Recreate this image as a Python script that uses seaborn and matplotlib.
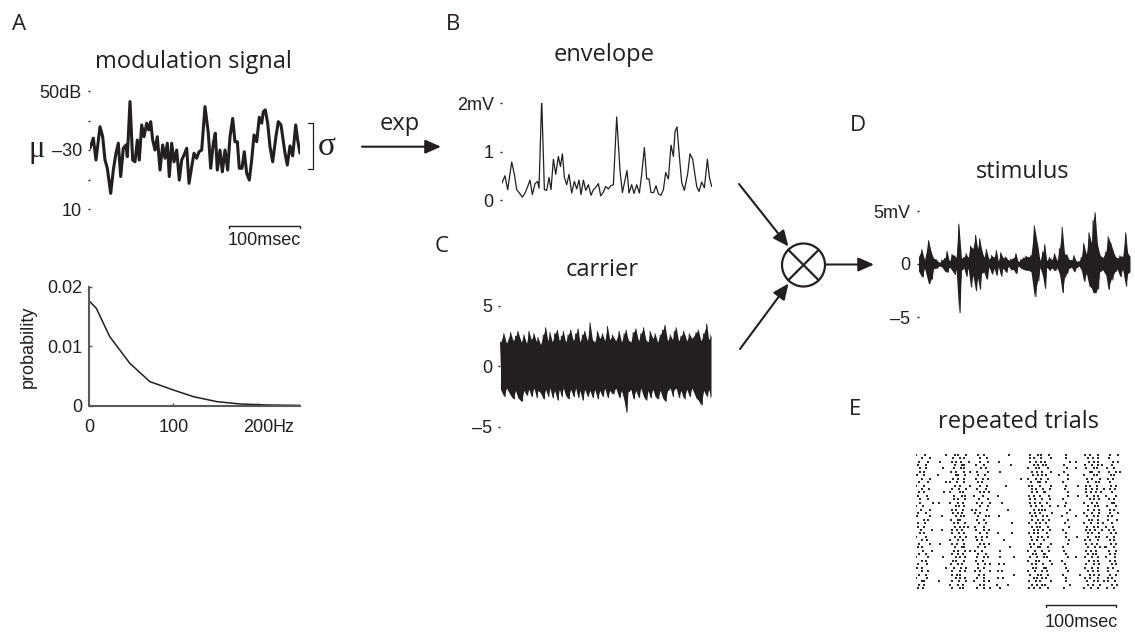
import numpy as np
import pandas as pd
import matplotlib
matplotlib.use("Agg")
import matplotlib.pyplot as plt
from matplotlib.patches import Circle
import seaborn as sns

# ---------------------------------------------------------------- data
# modulation signal (dB) sampled at irregular time points (ms)
mod_time_ms = [0, 4.7, 8.5, 14.2, 18.0, 21.3, 24.6, 29.4, 33.1, 36.9, 40.2, 43.6, 47.3, 51.1,
               53.0, 56.8, 60.6, 63.9, 67.2, 70.0, 73.4, 76.7, 80.5, 83.4, 86.2, 89.0, 92.3,
               95.6, 99.4, 103.2, 106.5, 109.8, 112.6, 116.0, 119.3, 123.1, 126.8, 130.2,
               133.5, 137.3, 140.6, 144.4, 147.7, 151.5, 154.8, 158.6, 163.3, 168.0, 171.4,
               175.1, 177.9, 180.8, 184.6, 187.9, 191.7, 195.5, 198.8, 202.6, 205.9, 209.2,
               212.0, 215.8, 219.1, 222.5, 226.2, 229.6, 232.9, 236.7, 240.4, 243.8, 246.1,
               248.9, 252.3, 255.6, 259.4, 264.1, 267.4, 271.2, 276.9, 280.2, 284.0, 287.8,
               292.1, 294.9, 298.2]
mod_db = [30.6, 34.0, 26.6, 37.9, 34.5, 26.6, 23.8, 15.3, 23.2, 28.9, 32.3, 21.0, 30.6, 31.7,
          27.7, 46.4, 26.6, 26.0, 33.4, 26.6, 38.5, 34.5, 39.1, 36.8, 39.6, 33.4, 30.0,
          34.5, 23.2, 31.7, 27.2, 32.3, 21.0, 32.3, 26.0, 30.0, 19.8, 26.6,
          28.3, 30.6, 18.7, 24.3, 28.9, 27.2, 29.4, 30.0, 44.7, 35.7, 23.8,
          32.3, 35.7, 23.2, 30.0, 22.6, 30.0, 23.2, 34.5, 40.7, 32.8, 32.8,
          23.8, 23.8, 29.4, 22.1, 19.8, 26.6, 35.1, 32.8, 41.1, 39.1, 43.0,
          43.6, 39.1, 31.1, 26.0, 34.7, 39.6, 38.5, 28.9, 24.9, 31.4, 28.0,
          38.5, 33.4, 28.9]

# carrier noise: upper and lower excursion at the same time points
carrier_hi = [2.0, 2.7, 1.9, 2.8, 2.1, 2.5, 2.9, 2.0, 2.6, 1.9,
              2.9, 2.2, 2.7, 2.0, 2.4, 1.8, 2.6, 3.2, 2.1, 2.8,
              2.0, 2.7, 3.0, 2.1, 2.5, 2.9, 2.0, 2.6, 3.0, 2.1,
              2.7, 3.1, 2.0, 2.6, 2.9, 2.1, 3.6, 2.2, 2.0, 2.9,
              2.3, 2.7, 2.1, 3.3, 2.2, 2.6, 2.1, 2.9, 2.0, 2.7,
              3.0, 2.2, 2.0, 2.8, 3.1, 2.1, 2.7, 3.2, 2.2, 2.0,
              2.9, 2.3, 2.7, 2.0, 2.6, 3.0, 3.4, 2.1, 2.6, 2.2,
              2.9, 3.2, 2.1, 2.5, 2.9, 2.1, 2.7, 2.3, 2.8, 3.0,
              2.1, 2.7, 3.5, 2.2, 2.6]
carrier_lo = [-1.9, -2.5, -1.8, -2.4, -2.7, -2.0, -2.6, -2.9, -2.0, -2.4,
              -1.9, -2.5, -1.8, -2.6, -2.0, -2.2, -2.7, -1.9, -2.5, -1.8,
              -2.6, -2.0, -2.8, -1.9, -2.5, -1.8, -2.4, -2.7, -1.9, -2.5,
              -1.8, -2.6, -2.0, -2.8, -1.9, -2.5, -2.0, -2.6, -1.9, -2.7,
              -2.0, -2.5, -1.8, -2.6, -2.0, -2.3, -1.8, -2.6, -2.0, -2.8,
              -3.8, -2.1, -1.9, -2.7, -2.0, -2.6, -1.8, -2.5, -2.8, -2.0,
              -2.6, -1.9, -2.5, -2.7, -2.0, -2.6, -2.9, -2.0, -1.8, -2.5,
              -1.9, -1.8, -2.6, -2.0, -2.7, -1.9, -2.5, -1.8, -2.6, -2.8,
              -3.2, -2.0, -2.5, -1.9, -2.6]

# distribution of the modulation frequencies
prob_freq_hz = [0, 8.7, 24.6, 48.4, 72.2, 100, 123.8, 151.6, 179, 211, 250]
prob_values = [0.01765, 0.01637, 0.01162, 0.00715, 0.00408, 0.00268, 0.00156,
               0.00073, 0.00034, 0.00017, 0.0001]

# spike raster: one row per trial, one character per time bin;
# a digit marks a spike and gives its place inside the bin (1 early, 2 middle, 3 late)
raster_bin_ms = 2.84
raster_rows = [
    "1...2..... ....3.. ..2.1..3 .... .3...1... ........2......... .1..3.2. ..2.. .... .3... ...... 2..1..3.. .. ..1..3 ..",
    "..3....1.. ....... .2..3..1 .... ...1..2.. .................. 3..1..2. ...2. .... ..1.. ...... .3..2..1. .. .2.... ..",
    ".2...3.... ..1.... 3..1.2.. .2.. ..3....1. ...2.............. .1.3..2. 2.... .... ...3. ..1... ..2.3..1. .. ...2.3 ..",
    "3....1.... ....... ..2..3.1 .... .1..3.... .........2........ ..3..1.2 .1... .... 3.... ...... 2..3...1. 1. ..3... ..",
    "..1.3..... ...2... .3...2.1 .... ...2.3... .................. 1..3.2.. ..1.. .... ..2.. .3.... .1..3.2.. .. 2...1. ..",
    ".3..1..... ....... 2..1..3. ..1. .2....3.. ....1............. .3..2..1 ...2. .... .1... ...... ..3.1..2. .. .2..3. .1",
    "2..3...... .1..... ..3.1..2 .... ..1..2... .................. ..2.3..1 3.... ..2. ...1. ...... 1...3.2.. .. ..2.1. ..",
    "...1..3... ....... .2..1.3. .... 3...2..1. ..............2... 1..3..2. ..1.. .... ..3.. ...... .2..1..3. .. 3..2.. ..",
    ".2....1... ....3.. 1..2..3. .... .3..1.... .................. .2..3.1. .1... .... 2.... ...... ..1..3.2. .. .3.... ..",
    "1..3...... ....... ..2..1.. .3.. ...1..2.. ......3........... 2.1..3.. ...2. .... ..1.. ..3... 3..1..2.. .. ..2..1 ..",
    "..3...2... ....... .1..2..3 .... .2...3... .................. .3..1..2 ..3.. .... .2... ...... .1.3..2.. .1 .3..2. ..",
    ".2..1..... ...3... 1...3.2. .... ..3..1.2. .................. ..1.2..3 2.... .... ...1. ...... 3..2..1.2 .. ..3... ..",
    "3....2.... ....... ..1..3.2 .... 1...2.... ..3............... 2..1.3.. ..2.. .... ..3.. ...1.. .2..3..1. .. 1...3. ..",
    "..1..3.... ....... .3..1..2 .... ..2...3.. .................. .1.2..3. ...1. .... 2.... ...... ..3..1.2. .. .2..1. ..",
    ".3......2. .2..... 1..3..2. .... .2..1..3. ....3............. 3..2..1. .2... .... ..1.. ...... 1..3..2.. .. ..3.1. ..",
    "1..2...... ....... ..3.2..1 .... ...1..3.. .................. .2..1.3. ..3.. ..1. .2... ...... .3...2.1. .. 2...3. ..",
    "..2...3... ....... 3..1..2. ..3. .1....2.. ........1......... ..3..2.1 2.... .... ...3. ...... ..1.3..2. .. .3..1. ..",
    ".1..3..... ....... .2.3..1. .... 2..1..... .................. 3..2..1. ...3. .... ..2.. ...... 1..3...2. .. ..1..3 ..",
    "2.....3... ...1... ..3..2.1 .... ..1..3.2. ...2.............. .3..1..2 .2... .... 1.... .3.... .2..3..1. .. 3..1.. ..",
    "...3..1... ....... 2..3.1.. .... .2...1... .................. ..1.3..2 ..2.. .... ..3.. ...... ..2.1.3.. .. .1...2 ..",
    ".1..2..... ....... .3..1..2 .... ..2..3... ..........1....... 2..3..1. 3.... .... .2... ...... 1..2..3.. 2. ..3... ..",
    "3...1..... ....... ..2.3..1 .1.. 2...3.... .................. .3..2.1. ..1.. .... ...2. ...... .2..3..1. .. 1..2.. ..",
    "..2....3.. ...1... 3..2..1. .... .1..3..2. .................. ..3..1.2 ...1. .... 2.... ...... 3..1.2..3 .. .2..1. ..",
    ".3..1..... ....... .1..2.3. .... ..3...2.. ...1.....3........ 2.3..1.. .2... .... ..1.. ...... .3..1..2. .. ..2.3. ..",
    "1...3..... ....... ..2..1.3 .... 3...1.2.. .................. .2..3..1 ..1.. .... .3... ..2... ..1..3.2. .. 2...1. ..",
    "..3..2.... ....... 1..3..2. .... .2..1.... .....3............ ..1.2..3 1.... .... ...2. ...... 2..1..3.. .. .3..1. ..",
    ".2.....1.. .3..... .1.2..3. .... ..3..1.2. .................. 3..1..2. ...2. .... ..3.. ...... .1.3..2.. .. ..2..1 ..",
    "3..1...... ....... ..2..3.1 .... .3...2... .........1........ .2..3.1. .3... .... 2.... ...... ..1..2.3. .2 1..3.. ..",
    "...2....1. ....... .3..1..2 ..1. 2..3..... ...3.............. 1..2..3. ..2.. .... .1... ...... 3..2..1.. .. .2..3. ..",
    ".2..3..... ....... 3...1.2. .... ..1..3... .................. ..2.1..3 2.... .... ..1.. ...... .3..2.1.. .. ..1.2. ..",
    "1....3.... ...2... ..3..1.2 .... .2..3..1. ....1.....3....... .1..2..3 .2... .... ...1. .3.... 2..3...1. .. 1...2. ..",
    "..3..1.... ....... .2.1..3. .... 3...2.... .................. 1..3.2.. ..3.. .... 1.... ...... ..2.3..1. .. .3..2. ..",
    ".1...2.... ....... 2..3..1. .... ..1..2.3. ...2.3............ .3..1..2 ...3. .... .2... ...... .1..3..2. .. ..3..1 ..",
    "2..1...... ....3.. ..1..2.3 .... .3...1... .................. ..2.1..3 3.... .... ..1.. ...... 2...1.3.. .. 3..2.. ..",
    "..3...1... ....... .1..3..2 .... 2..1...3. ..3..1............ 1..2..3. .2... .... ...1. ...... .3..2..1. .. .1...3 ..",
    ".2..3..... ....... 3..2.1.. .... ..2..1... ..........3....... .1..3.2. ..1.. .... 2.... ...3.. ..3..1.2. .. ..1.3. ..",
    "1....2.... ....... ..3..1.2 .... .2..3.... ...1.2............ ..3.2..1 .1... .... .3... ...... 2..1..3.. .. 3..1.. ..",
    "..3.1..... .2..... .1..2..3 .... 1...3..2. .................. 2..3..1. ...2. .... ..1.. ...... .2..3..1. 3. .1..2. ..",
    ".2..1..... ....... 1..3..2. .... ..3..1... ..2.....1......... .3..2..1 2.... .... ...3. ...... ..1.2..3. .. ..3..2 ..",
    "3..2...... ....... .1..3.2. .... .2...1.3. ...3.............. 2..1.3.. ..1.. .... 3.... ...... 1..2..3.. .. 2...1. ..",
]

# axis ticks and labels
mod_ticks = [10, 20, 30, 40, 50]
mod_labels = ["10", "", "\u201330", "", "50dB"]
env_ticks = [0, 1, 2]
env_labels = ["0", "1", "2mV"]
car_ticks = [-5, 0, 5]
car_labels = ["\u20135", "0", "5"]
stim_ticks = [-5, 0, 5]
stim_labels = ["\u20135", "0", "5mV"]
prob_yticks = [0, 0.01, 0.02]
prob_ylabels = ["0", "0.01", "0.02"]
prob_xticks = [0, 100, 200]
prob_xlabels = ["0", "100", "200"]

# ---------------------------------------------------------------- derived signals
t = np.array(mod_time_ms)
db = np.array(mod_db)
envelope = 10 ** ((db - 40.0) / 20.0)          # exp of the modulation signal, in mV
c_hi = np.array(carrier_hi)
c_lo = np.array(carrier_lo)
stim_hi = envelope * c_hi
stim_lo = envelope * c_lo

spike_t, spike_trial = [], []
for trial, row in enumerate(raster_rows):
    bins = row.replace(" ", "")
    for k, ch in enumerate(bins):
        if ch.isdigit():
            spike_t.append((k + (int(ch) - 0.5) / 3.0) * raster_bin_ms)
            spike_trial.append(trial)
spikes = pd.DataFrame({"time_ms": spike_t, "trial": spike_trial})

# ---------------------------------------------------------------- figure
sns.set_theme(style="white")
plt.rcParams["font.family"] = ["Liberation Sans", "DejaVu Sans"]
INK = "#231f20"
plt.rcParams["text.color"] = INK

W, H = 1135, 637
fig = plt.figure(figsize=(W / 100, H / 100), dpi=100)


def px_axes(x0, y_top, x1, y_bottom):
    return fig.add_axes([x0 / W, 1 - y_bottom / H, (x1 - x0) / W, (y_bottom - y_top) / H])


def ftext(x, y, s, **kw):
    return fig.text(x / W, 1 - y / H, s, **kw)


def trace_axes(ax, ticks, labels, lim):
    ax.set_ylim(*lim)
    ax.set_yticks(ticks)
    ax.set_yticklabels(labels)
    ax.set_xticks([])
    for sp in ax.spines.values():
        sp.set_visible(False)
    ax.tick_params(axis="y", left=True, direction="out", length=1.6, width=1.0,
                   pad=4.2, labelsize=13, color=INK, labelcolor=INK)
    ax.set_xlabel("")
    ax.set_ylabel("")
    ax.patch.set_alpha(0)


def band(ax, x, lo, hi):
    ax.fill_between(x, lo, hi, color=INK, linewidth=0)
    mid = np.append((x[:-1] + x[1:]) / 2, x[-1])
    zz_x = np.ravel(np.column_stack([x, mid]))
    zz_y = np.ravel(np.column_stack([hi, lo]))
    sns.lineplot(x=zz_x, y=zz_y, ax=ax, color=INK, linewidth=0.7,
                 estimator=None, sort=False, legend=False)


XLIM = (0, 298.2)

# A: modulation signal
axA = px_axes(90, 91, 300, 209)
sns.lineplot(x=t, y=db, ax=axA, color=INK, linewidth=2.2, estimator=None,
             sort=False, legend=False)
axA.set_xlim(*XLIM)
trace_axes(axA, mod_ticks, mod_labels, (10, 50))
tr = axA.get_xaxis_transform()
axA.plot([198, 298], [-0.144, -0.144], transform=tr, color=INK, lw=1.0, clip_on=False)
axA.plot([198, 198], [-0.144, -0.159], transform=tr, color=INK, lw=1.0, clip_on=False)
axA.plot([298, 298], [-0.144, -0.159], transform=tr, color=INK, lw=1.0, clip_on=False)
axA.text(248, -0.27, "100msec", transform=tr, ha="center", va="center", fontsize=13)

# modulation frequency distribution
axP = px_axes(89, 286.7, 300, 406)
sns.lineplot(x=prob_freq_hz, y=prob_values, ax=axP, color=INK, linewidth=1.1,
             estimator=None, sort=False, legend=False)
axP.set_xlim(0, 250)
axP.set_ylim(0, 0.02)
axP.set_xticks(prob_xticks)
axP.set_xticklabels(prob_xlabels)
axP.set_yticks(prob_yticks)
axP.set_yticklabels(prob_ylabels)
for side in ("top", "right"):
    axP.spines[side].set_visible(False)
for side in ("left", "bottom"):
    axP.spines[side].set_visible(True)
    axP.spines[side].set_color("#58595b")
    axP.spines[side].set_linewidth(1.5)
axP.tick_params(axis="both", left=True, bottom=True, direction="in", length=2.5,
                width=1.0, labelsize=13, color="#58595b", labelcolor=INK)
axP.tick_params(axis="y", pad=5)
axP.tick_params(axis="x", pad=9.5)
axP.set_xlabel("")
axP.set_ylabel("")
axP.annotate("Hz", xy=(200, 0), xycoords=("data", "axes fraction"),
             xytext=(10.9, -9.5), textcoords="offset points", ha="left", va="top",
             fontsize=13)
ftext(28, 347, "probability", rotation=90, ha="center", va="center", fontsize=13)

# B: envelope
axB = px_axes(501.7, 103.3, 711.7, 200)
sns.lineplot(x=t, y=envelope, ax=axB, color=INK, linewidth=0.9, estimator=None,
             sort=False, legend=False)
axB.set_xlim(*XLIM)
trace_axes(axB, env_ticks, env_labels, (0, 2))

# C: carrier
axC = px_axes(500.5, 306, 711, 426.7)
band(axC, t, c_lo, c_hi)
axC.set_xlim(*XLIM)
trace_axes(axC, car_ticks, car_labels, (-5, 5))

# D: stimulus = envelope x carrier
axD = px_axes(918.5, 211, 1130, 317)
band(axD, t, stim_lo, stim_hi)
axD.set_xlim(*XLIM)
trace_axes(axD, stim_ticks, stim_labels, (-5, 5))

# E: spike raster over repeated trials
axE = px_axes(916, 453, 1122, 590)
sns.scatterplot(data=spikes, x="time_ms", y="trial", ax=axE, marker="s", s=0.6,
                color="#2b2b2b", linewidth=0, legend=False)
axE.set_xlim(0, 292.5)
axE.set_ylim(len(raster_rows) - 0.5, -0.5)
axE.axis("off")
trE = axE.get_xaxis_transform()
axE.plot([184, 284], [-0.109, -0.109], transform=trE, color=INK, lw=1.0, clip_on=False)
axE.plot([184, 184], [-0.109, -0.124], transform=trE, color=INK, lw=1.0, clip_on=False)
axE.plot([284, 284], [-0.109, -0.124], transform=trE, color=INK, lw=1.0, clip_on=False)
axE.text(234, -0.234, "100msec", transform=trE, ha="center", va="center", fontsize=13)

# titles and panel letters
TITLE = dict(fontsize=17, family=["Open Sans", "DejaVu Sans"], ha="center", va="baseline")
LETTER = dict(fontsize=16, family=["Open Sans", "DejaVu Sans"], ha="left", va="baseline")
ftext(193, 68, "modulation signal", **TITLE)
ftext(604, 61, "envelope", **TITLE)
ftext(602.5, 276, "carrier", **TITLE)
ftext(1023, 178, "stimulus", **TITLE)
ftext(1019, 428, "repeated trials", **TITLE)
ftext(400, 130, "exp", **TITLE)
ftext(12, 30, "A", **LETTER)
ftext(446, 30, "B", **LETTER)
ftext(435, 252, "C", **LETTER)
ftext(850, 131, "D", **LETTER)
ftext(849, 415, "E", **LETTER)

# mean and spread markers of the modulation signal
ftext(36.5, 150, "\u03bc", fontsize=22, family=["Liberation Serif", "DejaVu Serif"],
      ha="center", va="center")
ftext(327, 147, "\u03c3", fontsize=24, family=["Liberation Serif", "DejaVu Serif"],
      ha="center", va="center")

# diagram overlay: arrows, multiplier, bracket
ov = fig.add_axes([0, 0, 1, 1], zorder=5)
ov.set_xlim(0, W)
ov.set_ylim(H, 0)
ov.axis("off")

ov.plot([308, 313, 313, 308], [122.7, 122.7, 169.3, 169.3], color=INK, lw=0.9)

ARROW = dict(arrowstyle="-|>,head_length=0.95,head_width=0.42", color=INK, lw=1.5,
             shrinkA=0, shrinkB=0, mutation_scale=10)
ov.annotate("", xy=(441, 146.7), xytext=(362, 146.7), arrowprops=ARROW)
ov.annotate("", xy=(788.5, 246.5), xytext=(739, 184), arrowprops=ARROW)
ov.annotate("", xy=(788.5, 283.5), xytext=(740, 349), arrowprops=ARROW)
ov.annotate("", xy=(874, 264.5), xytext=(825, 264.5), arrowprops=ARROW)

cx, cy, r = 803.5, 265, 21.5
ov.add_patch(Circle((cx, cy), r, fill=False, ec=INK, lw=1.6))
d = r * np.cos(np.pi / 4)
ov.plot([cx - d, cx + d], [cy - d, cy + d], color=INK, lw=1.6)
ov.plot([cx - d, cx + d], [cy + d, cy - d], color=INK, lw=1.6)

fig.savefig("out.png", dpi=100)
